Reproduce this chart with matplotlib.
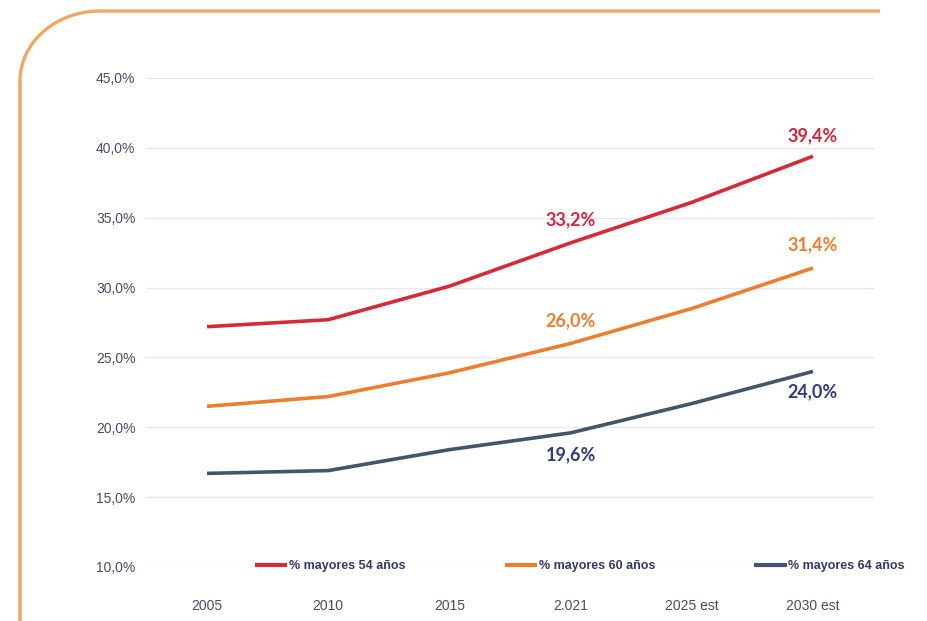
import matplotlib
matplotlib.use("Agg")
import matplotlib.pyplot as plt
from matplotlib.path import Path
from matplotlib.patches import PathPatch
from matplotlib.ticker import FuncFormatter

categories = ["2005", "2010", "2015", "2.021", "2025 est", "2030 est"]
may54 = [27.2, 27.7, 30.1, 33.2, 36.1, 39.4]
may60 = [21.5, 22.2, 23.9, 26.0, 28.5, 31.4]
may64 = [16.7, 16.9, 18.4, 19.6, 21.7, 24.0]
series_names = ["% mayores 54 años", "% mayores 60 años", "% mayores 64 años"]
yticks = [10, 15, 20, 25, 30, 35, 40, 45]

c_red, c_orange, c_navy = "#D42A3A", "#ED7D31", "#44546A"
lab_red, lab_orange, lab_navy = "#D0283C", "#ED7D31", "#333A7A"

W, H = 928, 621
fig = plt.figure(figsize=(W / 100, H / 100), dpi=100)
fig.patch.set_facecolor("white")

ax = fig.add_axes([146.4 / W, 1 - 567 / H, (873.6 - 146.4) / W, (567 - 78) / H])
x = list(range(len(categories)))
ax.plot(x, may54, color=c_red, lw=2.6, label=series_names[0], solid_capstyle="butt")
ax.plot(x, may60, color=c_orange, lw=2.6, label=series_names[1], solid_capstyle="butt")
ax.plot(x, may64, color=c_navy, lw=2.6, label=series_names[2], solid_capstyle="butt")

ax.set_xlim(-0.5, 5.5)
ax.set_ylim(10, 45)
ax.set_yticks(yticks)
ax.yaxis.set_major_formatter(FuncFormatter(lambda v, p: f"{v:.1f}%".replace(".", ",")))
ax.set_xticks(x)
ax.set_xticklabels(categories)
ax.grid(axis="y", color="#E6E6EE", lw=0.9)
ax.set_axisbelow(True)
for s in ax.spines.values():
    s.set_visible(False)
ax.tick_params(axis="both", length=0, labelsize=10, labelcolor="#4A4A68")
ax.tick_params(axis="y", pad=8)
ax.tick_params(axis="x", pad=23)
for t in ax.get_xticklabels() + ax.get_yticklabels():
    t.set_fontfamily("Liberation Sans")

lab_font = dict(fontfamily="Lato", fontweight="bold", fontsize=13, ha="center")
def lab(i, arr, col, dy):
    ax.annotate(f"{arr[i]:.1f}%".replace(".", ","), (i, arr[i]), xytext=(0, dy),
                textcoords="offset points", color=col, va="center", **lab_font)

lab(3, may54, lab_red, 17)
lab(5, may54, lab_red, 15)
lab(3, may60, lab_orange, 16)
lab(5, may60, lab_orange, 17)
lab(5, may64, lab_navy, -15)
lab(3, may64, lab_navy, -16)

leg = fig.legend(loc="center left", bbox_to_anchor=(255 / W, 1 - 566 / H, (905 - 255) / W, 0.0),
                 ncol=3, mode="expand", frameon=False, handlelength=2.6, handletextpad=0.15,
                 borderpad=0, borderaxespad=0,
                 prop={"family": "Liberation Sans", "weight": "bold", "size": 9})
for t in leg.get_texts():
    t.set_color("#333A66")
for l in leg.get_lines():
    l.set_linewidth(3)

# orange rounded frame
rx, ry, k = 80, 70, 0.552
verts = [(20, H), (20, 11 + ry), (20, 11 + ry * (1 - k)), (20 + rx * (1 - k), 11),
         (20 + rx, 11), (880, 11)]
codes = [Path.MOVETO, Path.LINETO, Path.CURVE4, Path.CURVE4, Path.CURVE4, Path.LINETO]
verts_f = [(vx / W, 1 - vy / H) for vx, vy in verts]
fig.patches.append(PathPatch(Path(verts_f, codes), transform=fig.transFigure,
                             fill=False, edgecolor="#EFA864", lw=2.4))

fig.savefig("out.png", dpi=100, facecolor="white")
